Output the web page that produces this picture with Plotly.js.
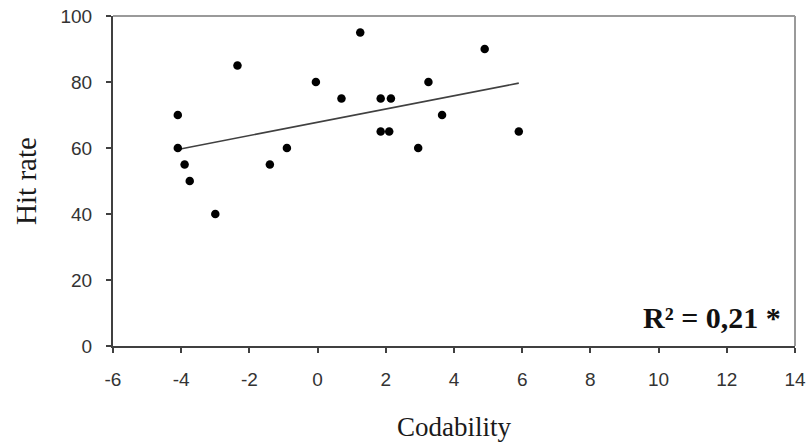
<!DOCTYPE html>
<html>
<head>
<meta charset="utf-8">
<script src="https://cdn.plot.ly/plotly-3.0.1.min.js"></script>
<style>html,body{margin:0;padding:0;background:#fff;}#chart{width:811px;height:444px;}</style>
</head>
<body>
<div id="chart"></div>
<script>
var codability = [-4.1, -4.1, -3.9, -3.75, -3.0, -2.35, -1.4, -0.9, -0.05, 0.7, 1.25, 1.85, 2.15, 1.85, 2.1, 2.95, 3.25, 3.65, 4.9, 5.9];
var hitRate    = [70, 60, 55, 50, 40, 85, 55, 60, 80, 75, 95, 75, 75, 65, 65, 60, 80, 70, 90, 65];
var xTicks = [-6, -4, -2, 0, 2, 4, 6, 8, 10, 12, 14];
var yTicks = [0, 20, 40, 60, 80, 100];
var r2Label = 'R² = 0,21 *';

// least-squares trend line from the data
var n = codability.length;
var mx = codability.reduce(function(a,b){return a+b;},0)/n;
var my = hitRate.reduce(function(a,b){return a+b;},0)/n;
var sxy = 0, sxx = 0;
for (var i=0;i<n;i++){ sxy += (codability[i]-mx)*(hitRate[i]-my); sxx += (codability[i]-mx)*(codability[i]-mx); }
var slope = sxy/sxx, icpt = my - slope*mx;
var xmin = Math.min.apply(null,codability), xmax = Math.max.apply(null,codability);
var trendX = [xmin, xmax];
var trendY = trendX.map(function(x){return icpt + slope*x;});

var traces = [
  {x: trendX, y: trendY, mode:'lines', type:'scatter', line:{color:'#404040', width:1.6}, hoverinfo:'skip'},
  {x: codability, y: hitRate, mode:'markers', type:'scatter', marker:{color:'#000', size:8.5}}
];
var axisCommon = {
  showgrid:false, zeroline:false, showline:true, linecolor:'#404040', linewidth:2,
  ticks:'outside', ticklen:5, tickwidth:2, tickcolor:'#404040',
  tickfont:{family:'Liberation Sans, Arial, sans-serif', size:19, color:'#333'},
  automargin:false
};
var layout = {
  width:811, height:444,
  margin:{l:113, r:16, t:16, b:98},
  paper_bgcolor:'#fff', plot_bgcolor:'#fff',
  showlegend:false,
  xaxis: Object.assign({}, axisCommon, {
    range:[-6,14], tickvals:xTicks, ticktext:xTicks.map(String), ticklabelstandoff:10,
    title:{text:'Codability', font:{family:'Liberation Serif, Times New Roman, serif', size:27, color:'#1a1a1a'}, standoff:28}
  }),
  yaxis: Object.assign({}, axisCommon, {
    range:[0,100], tickvals:yTicks, ticktext:yTicks.map(String), ticklabelstandoff:10,
    title:{text:'Hit rate', font:{family:'Liberation Serif, Times New Roman, serif', size:29, color:'#1a1a1a'}, standoff:15}
  }),
  shapes:[
    {type:'line', xref:'paper', yref:'paper', x0:0, x1:1, y0:1, y1:1, line:{color:'#9a9a9a', width:2}},
    {type:'line', xref:'paper', yref:'paper', x0:1, x1:1, y0:0, y1:1, line:{color:'#9a9a9a', width:2}}
  ],
  annotations:[
    {x:13.65, y:8.7, xref:'x', yref:'y', text:'<b>'+r2Label+'</b>', showarrow:false, xanchor:'right', yanchor:'middle',
     font:{family:'Liberation Serif, Times New Roman, serif', size:30, color:'#111'}}
  ]
};
Plotly.newPlot('chart', traces, layout, {staticPlot:true, displayModeBar:false});
</script>
</body>
</html>
